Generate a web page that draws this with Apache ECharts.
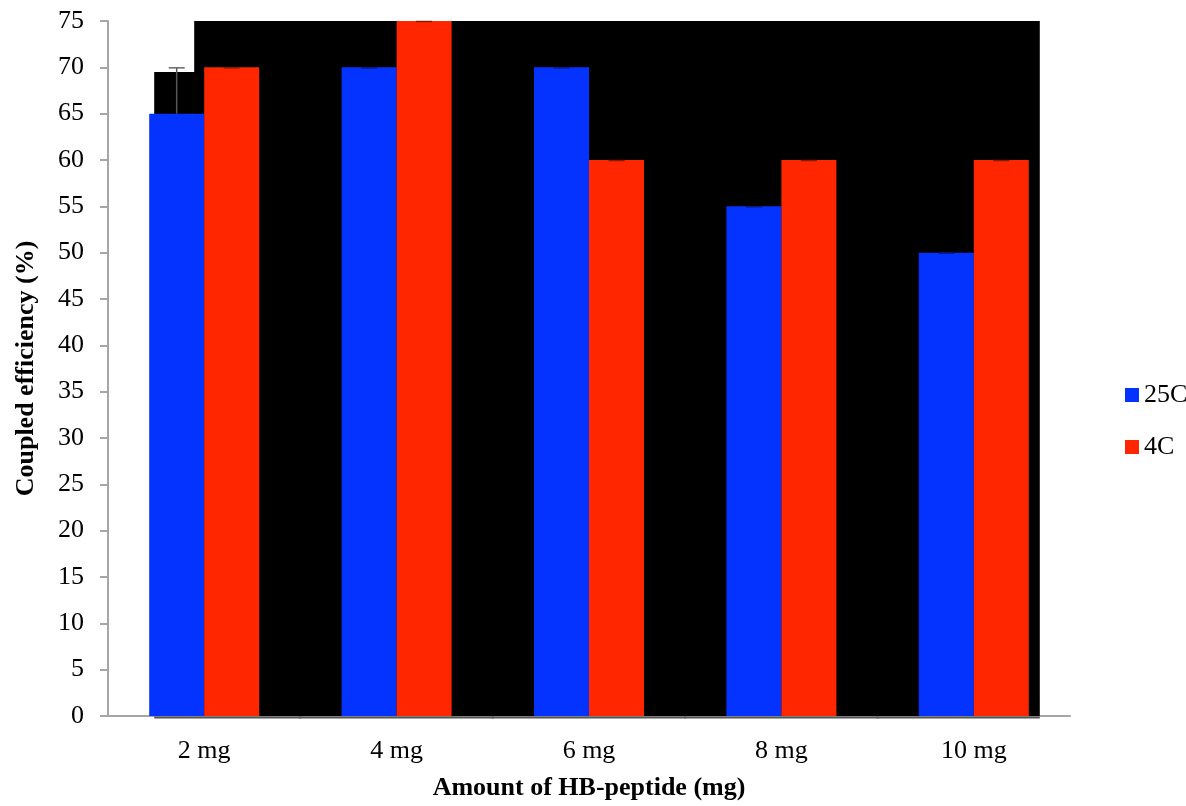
<!DOCTYPE html>
<html>
<head>
<meta charset="utf-8">
<script src="https://cdn.jsdelivr.net/npm/echarts@6/dist/echarts.min.js"></script>
<style>html,body{margin:0;padding:0;background:#fff;}#c{width:1186px;height:806px;}</style>
</head>
<body>
<div id="c"></div>
<script>
var categories = ['2 mg', '4 mg', '6 mg', '8 mg', '10 mg'];
var series25C = [65, 70, 70, 55, 50];
var series4C = [70, 75, 60, 60, 60];
var err25C = [5, 0, 0, 0, 0];
var err4C = [0, 0, 0, 0, 0];
// black backdrop tops: over the 25C half, over the rest of each category
var shadeLeft = [69.5, 75, 75, 75, 75];
var shadeRight = [75, 75, 75, 75, 75];
var yTicks = {min: 0, max: 75, interval: 5};

var FONT = '"Liberation Serif", "Times New Roman", serif';
var FS = 26;
var BAR_W = 55;

var shadeData = categories.map(function (c, i) { return [i, shadeLeft[i], shadeRight[i]]; });
var errData = [];
categories.forEach(function (c, i) {
  errData.push([i, 0, series25C[i], series25C[i] + err25C[i]]);
  errData.push([i, 1, series4C[i], series4C[i] + err4C[i]]);
});

var chart = echarts.init(document.getElementById('c'), null, {renderer: 'canvas'});
chart.setOption({
  animation: false,
  backgroundColor: '#ffffff',
  grid: {left: 108, right: 116, top: 21, bottom: 90, containLabel: false},
  legend: {
    orient: 'vertical',
    left: 1120, top: 377,
    itemWidth: 14, itemHeight: 14, itemGap: 26,
    icon: 'rect',
    textStyle: {fontFamily: FONT, fontSize: FS, color: '#000'},
    data: ['25C', '4C']
  },
  xAxis: {
    type: 'category',
    data: categories,
    axisLine: {show: true, lineStyle: {color: '#a6a6a6', width: 2}},
    axisTick: {show: false},
    axisLabel: {fontFamily: FONT, fontSize: FS, color: '#000', margin: 22},
    name: 'Amount of HB-peptide (mg)',
    nameLocation: 'middle',
    nameGap: 59,
    nameTextStyle: {fontFamily: FONT, fontSize: FS, fontWeight: 'bold', color: '#000'}
  },
  yAxis: {
    type: 'value',
    min: yTicks.min, max: yTicks.max, interval: yTicks.interval,
    axisLine: {show: true, lineStyle: {color: '#a6a6a6', width: 2}},
    axisTick: {show: true, length: 8, lineStyle: {color: '#a6a6a6', width: 2}},
    splitLine: {show: false},
    axisLabel: {fontFamily: FONT, fontSize: FS, color: '#000', margin: 24},
    name: 'Coupled efficiency (%)',
    nameLocation: 'middle',
    nameGap: 69,
    nameTextStyle: {fontFamily: FONT, fontSize: FS, fontWeight: 'bold', color: '#000'}
  },
  series: [
    {
      type: 'custom',
      name: 'shade',
      z: 1,
      silent: true,
      data: shadeData,
      encode: {x: 0, y: [1, 2]},
      renderItem: function (params, api) {
        var idx = api.value(0);
        var c = api.coord([idx, 0]);
        var bandW = api.size([1, 0])[0];
        var n = categories.length;
        var x0 = idx === 0 ? c[0] - BAR_W + 5 : c[0] - bandW / 2 - 1;
        var x1 = idx === n - 1 ? c[0] + BAR_W + 11 : c[0] + bandW / 2 + 1;
        var xs = c[0] - 10;
        var yL = api.coord([idx, api.value(1)])[1];
        var yR = api.coord([idx, api.value(2)])[1];
        var y0 = c[1];
        var pts = [[x0, y0], [x0, yL], [xs, yL], [xs, yR], [x1, yR], [x1, y0]];
        return {
          type: 'group',
          children: [
            {type: 'polygon', shape: {points: pts}, style: {fill: '#000'}},
            {type: 'line', shape: {x1: x0, y1: y0 + 1.5, x2: x1, y2: y0 + 1.5}, style: {stroke: '#555', lineWidth: 2}}
          ]
        };
      }
    },
    {
      type: 'bar', name: '25C', data: series25C, barWidth: BAR_W, barGap: '0%', z: 2,
      itemStyle: {color: '#0433FF'}
    },
    {
      type: 'bar', name: '4C', data: series4C, barWidth: BAR_W, barGap: '0%', z: 2,
      itemStyle: {color: '#FF2600'}
    },
    {
      type: 'custom',
      name: 'err',
      z: 3,
      silent: true,
      data: errData,
      encode: {x: 0, y: [2, 3]},
      renderItem: function (params, api) {
        var idx = api.value(0);
        var s = api.value(1);
        var c = api.coord([idx, api.value(2)]);
        var top = api.coord([idx, api.value(3)]);
        var cx = c[0] + (s === 0 ? -BAR_W / 2 : BAR_W / 2);
        var col = s === 0 ? '#666' : '#8a1a00';
        if (s === 0 && api.value(3) === api.value(2)) col = '#0a1a80';
        return {
          type: 'group',
          children: [
            {type: 'line', shape: {x1: cx, y1: c[1], x2: cx, y2: top[1]}, style: {stroke: '#555', lineWidth: 1.5}},
            {type: 'line', shape: {x1: cx - 8, y1: top[1] + 0.5, x2: cx + 8, y2: top[1] + 0.5}, style: {stroke: col, lineWidth: 1.5}}
          ]
        };
      }
    }
  ]
});
</script>
</body>
</html>
